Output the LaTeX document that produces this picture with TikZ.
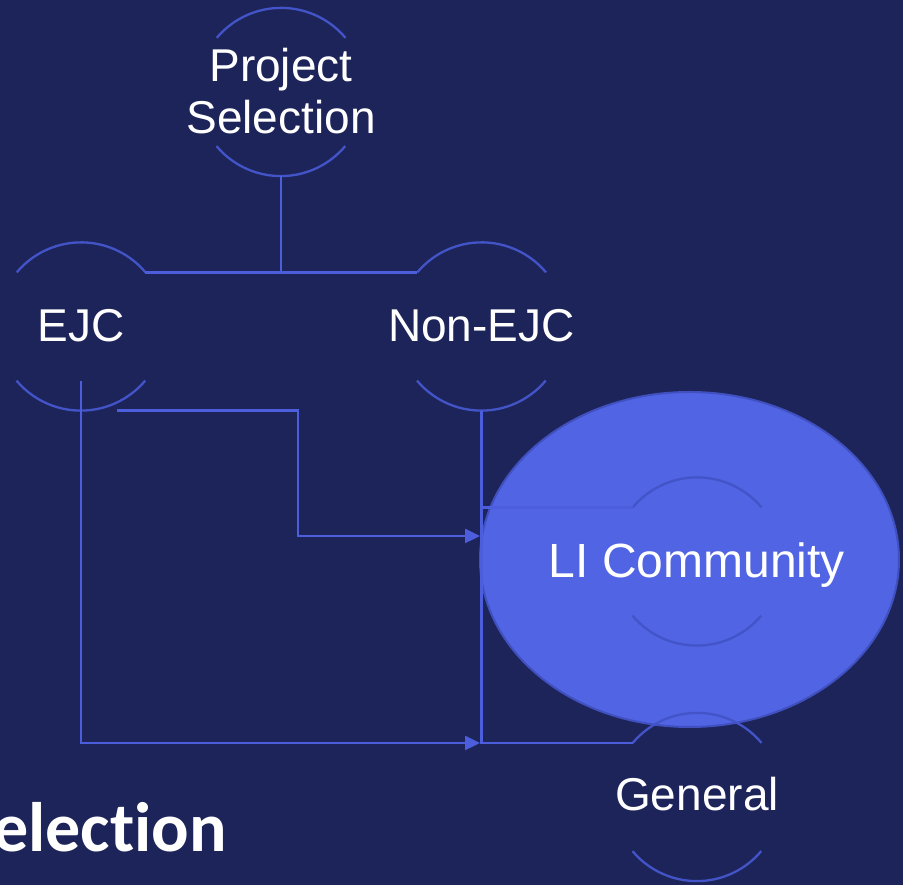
\documentclass[tikz,border=0pt]{standalone}
\usepackage{fontspec}
\setmainfont{Liberation Sans}
\newfontfamily\titlefont[Ligatures=NoCommon]{Carlito}
\usetikzlibrary{shapes.geometric,arrows.meta}
\definecolor{bgnavy}{RGB}{29,36,90}
\definecolor{ellfill}{RGB}{80,100,228}
\definecolor{ellborder}{RGB}{64,80,190}
\definecolor{arccol}{RGB}{66,84,200}
\definecolor{linkcol}{RGB}{76,94,220}
\tikzset{
  ring/.style={circle, minimum size=168pt, inner sep=0pt, draw=none},
  arcline/.style={draw=arccol, line width=2.3pt},
  link/.style={draw=linkcol, line width=2.5pt},
  arrowlink/.style={link, -{Triangle[length=15pt,width=14pt]}},
  label/.style={text=white, inner sep=0pt, font=\fontsize{46}{52}\selectfont},
}
\begin{document}
\begin{tikzpicture}[x=1pt,y=1pt]
\fill[bgnavy] (0,0) rectangle (903,885);
\useasboundingbox (0,0) rectangle (903,885);

% big ellipse behind
\node[ellipse, fill=ellfill, draw=ellborder, line width=2pt, inner sep=0pt,
      minimum width=419pt, minimum height=335pt] (ell) at (689.5,325.5) {};

% circle frames
\node[ring] (psc)  at (281,793) {};
\node[ring] (ejcc) at (81,558.5) {};
\node[ring] (nonc) at (481.5,558.5) {};
\node[ring] (lic)  at (697,323.5) {};
\node[ring] (genc) at (697,88) {};

\foreach \c in {psc,ejcc,nonc,lic,genc}{
  \draw[arcline] (\c.40) arc[start angle=40, end angle=140, radius=84pt];
  \draw[arcline] (\c.220) arc[start angle=220, end angle=320, radius=84pt];
}

% texts
\node[label, align=center] (ps) at (281,794) {Project\\Selection};
\node[label, anchor=base] (ejc) at (81,543) {EJC};
\node[label, anchor=base] (non) at (481.5,543) {Non-EJC};
\node[label, anchor=base, font=\fontsize{48}{52}\selectfont] (li) at (697,307) {LI Community};
\node[label, anchor=base] (gen) at (697,74.5) {General};
\node[text=white, inner sep=0pt, anchor=base east,
      font=\titlefont\bfseries\fontsize{70}{80}\selectfont] (ttl) at (227,33) {election};

% tree connectors
\draw[link] (psc.south) -- (psc.south |- ejcc.40);
\draw[link] (ejcc.40) -- (nonc.140);

% Non-EJC to children
\draw[link] (nonc.south) -- (nonc.south |- genc.140) -- (genc.140);
\draw[link] (nonc.south |- lic.140) -- (lic.140);

% EJC arrows
\coordinate (e1) at (ejcc.center |- ejcc.220);
\coordinate (e2) at ([xshift=36pt]ejcc.south);
\coordinate (a1) at (480,349);
\coordinate (a2) at (480,142);
\draw[arrowlink] (e2) -| (298,349) -- (a1);
\draw[arrowlink] (e1) -- (e1 |- a2) -- (a2);
\end{tikzpicture}
\end{document}
